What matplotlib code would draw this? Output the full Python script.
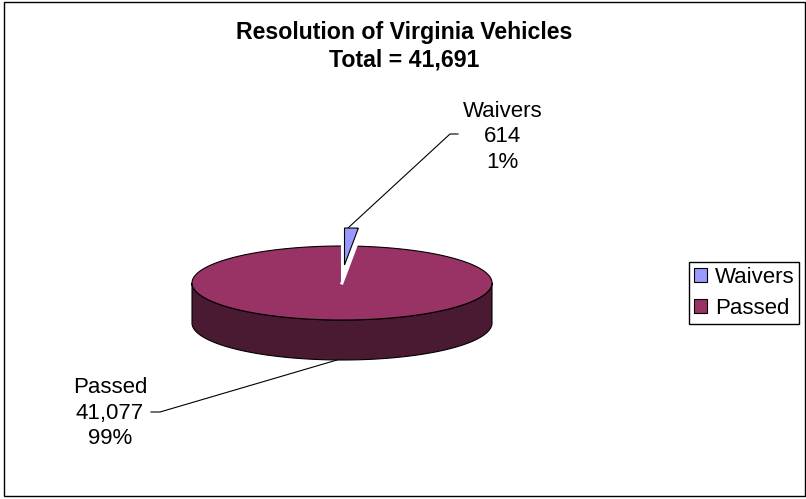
import numpy as np
import matplotlib
matplotlib.use('Agg')
import matplotlib.pyplot as plt
from matplotlib.patches import Polygon, Rectangle, Patch

plt.rcParams['font.family'] = ['Liberation Sans', 'DejaVu Sans']

labels = ['Waivers', 'Passed']
values = [614, 41077]
colors = ['#9999FF', '#993366']
side_color = '#4A1A32'
title = 'Resolution of Virginia Vehicles\nTotal = 41,691'

# pie geometry in pixels
cx, cy = 342, 283
rx, ry = 150, 37
depth = 40


def ellipse_pts(start, end, n=200):
    # angles are degrees clockwise from 12 o'clock
    t = np.radians(np.linspace(start, end, n))
    return np.column_stack([cx + rx * np.sin(t), cy - ry * np.cos(t)])


fig = plt.figure(figsize=(8.06, 4.99), dpi=100)
ax = fig.add_axes([0, 0, 1, 1])
ax.set_xlim(0, 806)
ax.set_ylim(499, 0)
ax.axis('off')

ax.add_patch(Rectangle((4, 2), 801, 494, fc='white', ec='black', lw=1))

# share of the circle per slice
total = sum(values)
sweep = [v / total * 360 for v in values]

# side wall of the big slice
front = ellipse_pts(90, 270)
wall = np.vstack([front, front[::-1] + [0, depth]])
ax.add_patch(Polygon(wall, fc=side_color, ec='black', lw=0.8, joinstyle='round'))

# top of the passed slice
pts = np.vstack([[cx, cy], ellipse_pts(sweep[0], 360)])
ax.add_patch(Polygon(pts, fc=colors[1], ec='black', lw=0.8))
# white gap edge where the slice was pulled out
ax.plot([cx, cx + rx * np.sin(np.radians(sweep[0]))],
        [cy, cy - ry * np.cos(np.radians(sweep[0]))], color='white', lw=2.2, zorder=3)
ax.plot([cx, cx], [cy, cy - ry], color='white', lw=1.5, zorder=3)

# exploded waivers slice
pts = np.vstack([[cx, cy], ellipse_pts(0, sweep[0], 20)]) + [2.5, -18]
ax.add_patch(Polygon(pts, fc=colors[0], ec='black', lw=0.8, zorder=4))

# leader lines
ax.plot([348, 450, 458], [228, 134, 134], color='black', lw=0.8)
ax.plot([151, 160, 337], [412, 412, 360], color='black', lw=0.8)

ax.text(404.5, 46, title, ha='center', va='center', fontsize=16.7, fontweight='bold', linespacing=1.24)
ax.text(502.5, 137, f'{labels[0]}\n{values[0]:,}\n{values[0] / total:.0%}',
        ha='center', va='center', fontsize=16, linespacing=1.3)
ax.text(110, 413, f'{labels[1]}\n{values[1]:,}\n{values[1] / total:.0%}',
        ha='center', va='center', fontsize=16, linespacing=1.3)

handles = [Patch(fc=c, ec='black', lw=0.8) for c in colors]
ax.legend(handles, labels, loc='center', bbox_to_anchor=(744, 293),
          bbox_transform=ax.transData, fontsize=16, frameon=True, fancybox=False,
          edgecolor='black', framealpha=1, handlelength=0.6, handleheight=0.6,
          handletextpad=0.35, labelspacing=0.45, borderpad=0.22, borderaxespad=0)

fig.savefig('out.png', dpi=100)
plt.close(fig)
